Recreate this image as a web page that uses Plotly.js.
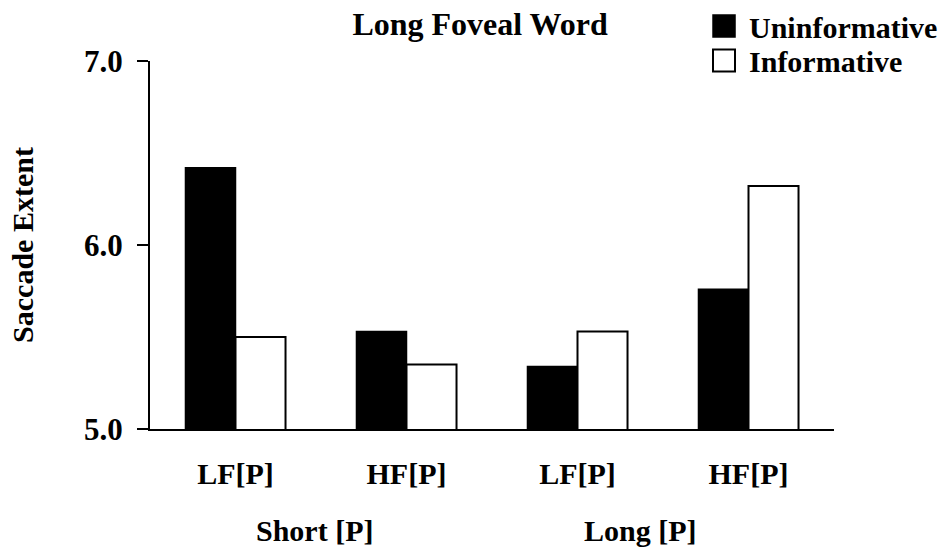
<!DOCTYPE html>
<html><head><meta charset="utf-8">
<script src="https://cdn.plot.ly/plotly-3.0.1.min.js"></script>
<style>html,body{margin:0;padding:0;background:#fff}</style>
</head><body>
<div id="chart" style="width:947px;height:554px"></div>
<script>
// ---- data ----
const subLabels = ['LF[P]', 'HF[P]', 'LF[P]', 'HF[P]'];
const groupLabels = ['Short [P]', 'Long [P]'];
const seriesNames = ['Uninformative', 'Informative'];
const uninformative = [6.42, 5.53, 5.34, 5.76];
const informative = [5.50, 5.35, 5.53, 6.32];
const yTicks = [5.0, 6.0, 7.0];
const chartTitle = 'Long Foveal Word';
const yTitle = 'Saccade Extent';

// ---- layout / style ----
const FONT = '"Liberation Serif", "Times New Roman", serif';
const xIdx = subLabels.map((_, i) => i);
const groupPos = [0.46, 2.37];
const legendFont = {family: FONT, size: 30, weight: 'bold'};

const traces = [
  {type: 'bar', name: seriesNames[0], x: xIdx, y: uninformative, legend: 'legend',
   marker: {color: '#000000', line: {color: '#000000', width: 1.5}}},
  {type: 'bar', name: seriesNames[1], x: xIdx, y: informative, legend: 'legend2',
   marker: {color: '#ffffff', line: {color: '#000000', width: 2}}}
];

const legendBase = {xref: 'container', yref: 'container', x: 0.7487, xanchor: 'left', yanchor: 'top',
  font: legendFont, bgcolor: 'rgba(0,0,0,0)', borderwidth: 0};

const layout = {
  width: 947, height: 554,
  margin: {l: 150, r: 113, t: 61, b: 125, autoexpand: false},
  paper_bgcolor: '#ffffff', plot_bgcolor: '#ffffff',
  font: {family: FONT, size: 30, color: '#000000', weight: 'bold'},
  barmode: 'group', bargap: 0.415, bargroupgap: 0,
  showlegend: true,
  legend: Object.assign({}, legendBase, {y: 1.0}),
  legend2: Object.assign({}, legendBase, {y: 0.9377}),
  title: {text: chartTitle, x: 0.507, xanchor: 'center', y: 0.957, yanchor: 'middle',
          font: {family: FONT, size: 32, weight: 'bold'}},
  xaxis: {range: [-0.5, 3.5], tickvals: xIdx, ticktext: subLabels, automargin: false,
          showline: true, linecolor: '#000', linewidth: 2, ticks: '',
          showgrid: false, zeroline: false, ticklabelstandoff: 17,
          tickfont: {family: FONT, size: 30, weight: 'bold'}},
  yaxis: {range: [5, 7], tickvals: yTicks, tickformat: '.1f', automargin: false,
          showline: true, linecolor: '#000', linewidth: 2,
          ticks: 'outside', ticklen: 11, tickwidth: 2, tickcolor: '#000',
          showgrid: false, zeroline: false, ticklabelstandoff: 8,
          tickfont: {family: FONT, size: 31, weight: 'bold'},
          title: {text: yTitle, standoff: 42, font: {family: FONT, size: 30, weight: 'bold'}}},
  annotations: groupLabels.map((g, i) => ({
    text: g, x: groupPos[i], xref: 'x', y: -0.275, yref: 'paper',
    xanchor: 'center', yanchor: 'middle', showarrow: false,
    font: {family: FONT, size: 30, weight: 'bold'}
  }))
};

Plotly.newPlot('chart', traces, layout, {displayModeBar: false, staticPlot: true}).then(() => {
  document.querySelectorAll('.legendpoints path').forEach(p => {
    p.setAttribute('d', 'M6,11H-16V-11H6Z');
  });
});
</script>
</body></html>
